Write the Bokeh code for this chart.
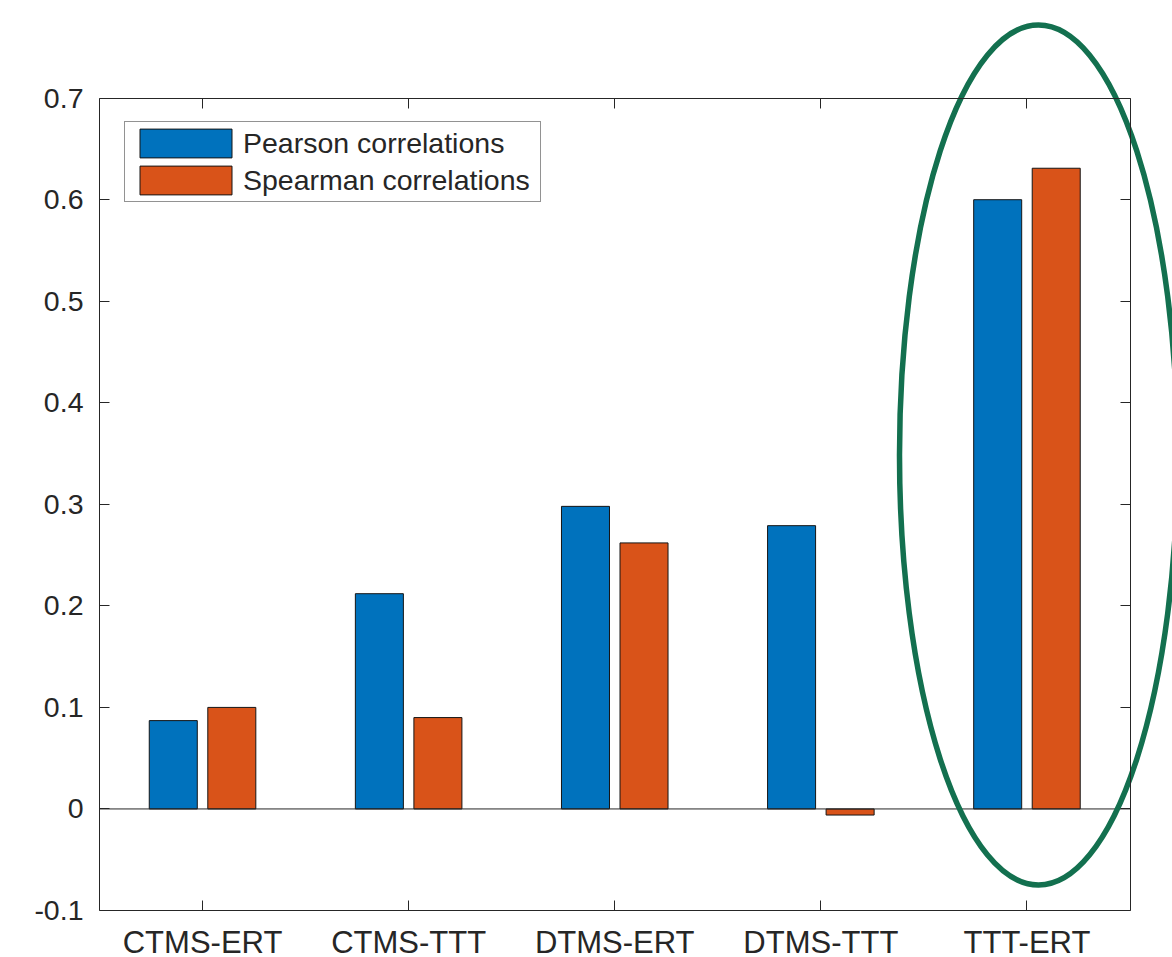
import numpy as np
from bokeh.plotting import figure
from bokeh.models import (Range1d, FixedTicker, LinearAxis, Legend, LegendItem,
                          ColumnDataSource)
from bokeh.embed import file_html
from bokeh.resources import INLINE

# ---- data ----
categories = ["CTMS-ERT", "CTMS-TTT", "DTMS-ERT", "DTMS-TTT", "TTT-ERT"]
pearson = [0.087, 0.212, 0.298, 0.279, 0.600]
spearman = [0.100, 0.090, 0.262, -0.006, 0.631]
y_ticks = [-0.1, 0, 0.1, 0.2, 0.3, 0.4, 0.5, 0.6, 0.7]
y_tick_labels = ["-0.1", "0", "0.1", "0.2", "0.3", "0.4", "0.5", "0.6", "0.7"]
series_names = ["Pearson correlations", "Spearman correlations"]

# ---- styles / layout ----
BLUE = "#0072BD"
ORANGE = "#D95319"
AX = "#262626"
GREEN = "#13704F"
BAR_W = 0.233
OFFSET = 0.142
BOX_X = (0.5, 5.5)          # MATLAB axes box, x limits
BOX_Y = (-0.1, 0.7)         # MATLAB axes box, y limits
VIEW_X = (0.0197, 5.7062)   # visible canvas extent in data units
VIEW_Y = (-0.1463, 0.7962)
ELL = dict(cx=5.056, cy=0.3486, rx=0.6744, ry=0.4235)  # highlight ellipse

pos = list(range(1, len(categories) + 1))
src_p = ColumnDataSource(dict(x=[q - OFFSET for q in pos], top=pearson))
src_s = ColumnDataSource(dict(x=[q + OFFSET for q in pos], top=spearman))

p = figure(width=1172, height=957, output_backend="svg", toolbar_location=None,
           title=None,
           x_range=Range1d(*VIEW_X), y_range=Range1d(*VIEW_Y),
           min_border_left=0, min_border_right=0, min_border_top=0,
           min_border_bottom=0)
p.background_fill_color = "white"
p.border_fill_color = "white"
p.outline_line_color = None
p.grid.visible = False

r1 = p.vbar(x="x", top="top", bottom=0, width=BAR_W, source=src_p,
            fill_color=BLUE, line_color="#151515", line_width=1)
r2 = p.vbar(x="x", top="top", bottom=0, width=BAR_W, source=src_s,
            fill_color=ORANGE, line_color="#151515", line_width=1)

# bar baseline at zero across the axes box
p.segment(x0=[BOX_X[0]], x1=[BOX_X[1]], y0=[0], y1=[0], line_color=AX, line_width=1)

# bottom axis
xa = p.xaxis[0]
xa.fixed_location = BOX_Y[0]
xa.bounds = BOX_X
xa.ticker = FixedTicker(ticks=pos)
xa.major_label_overrides = {q: c for q, c in zip(pos, categories)}
xa.major_label_text_font = "Liberation Sans"
xa.major_label_text_font_size = "31px"
xa.major_label_text_color = AX
xa.major_label_standoff = 15
xa.major_tick_in = 10
xa.major_tick_out = 0
xa.minor_tick_line_color = None
xa.axis_line_color = AX
xa.major_tick_line_color = AX

# left axis
ya = p.yaxis[0]
ya.fixed_location = BOX_X[0]
ya.bounds = BOX_Y
ya.ticker = FixedTicker(ticks=y_ticks)
ya.major_label_overrides = {t: l for t, l in zip(y_ticks, y_tick_labels)}
ya.major_label_text_font = "Liberation Sans"
ya.major_label_text_font_size = "28.5px"
ya.major_label_text_color = AX
ya.major_label_standoff = 16
ya.major_tick_in = 10
ya.major_tick_out = 0
ya.minor_tick_line_color = None
ya.axis_line_color = AX
ya.major_tick_line_color = AX

# top & right box axes (ticks only)
top_ax = LinearAxis(ticker=FixedTicker(ticks=pos), fixed_location=BOX_Y[1], bounds=BOX_X,
                    major_label_text_color=None,
                    major_tick_in=10, major_tick_out=0, minor_tick_line_color=None,
                    axis_line_color=AX, major_tick_line_color=AX)
right_ax = LinearAxis(ticker=FixedTicker(ticks=y_ticks), fixed_location=BOX_X[1], bounds=BOX_Y,
                      major_label_text_color=None,
                      major_tick_in=10, major_tick_out=0, minor_tick_line_color=None,
                      axis_line_color=AX, major_tick_line_color=AX)
p.add_layout(top_ax, "above")
p.add_layout(right_ax, "right")

# legend
legend = Legend(items=[LegendItem(label=series_names[0], renderers=[r1]),
                       LegendItem(label=series_names[1], renderers=[r2])],
                location=(124, 755), glyph_width=115, glyph_height=36,
                label_text_font="Liberation Sans", label_text_font_size="28.5px",
                label_text_color=AX, label_standoff=0, padding=3, spacing=1,
                label_height=36, label_width=294, margin=0,
                border_line_color=AX, border_line_width=1,
                background_fill_color="white", background_fill_alpha=1)
p.add_layout(legend)

# highlight ellipse
p.ellipse(x=[ELL["cx"]], y=[ELL["cy"]], width=[2 * ELL["rx"]], height=[2 * ELL["ry"]],
          fill_color=None, line_color=GREEN, line_width=5.5)

open("out.html", "w").write(file_html(p, INLINE))
